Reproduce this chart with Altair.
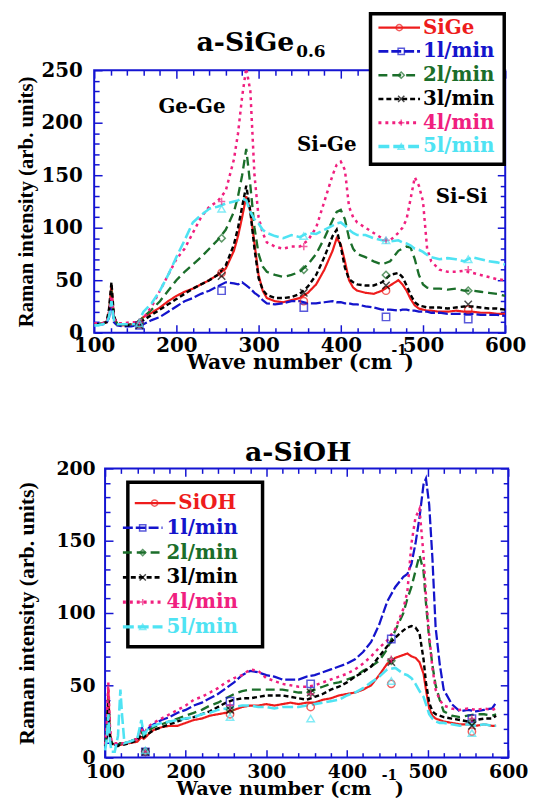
import altair as alt
import pandas as pd

# ---------------- data: top panel (a-SiGe0.6) ----------------
X_TOP = [100, 105, 110, 115, 118, 121, 124, 128,
         135, 145, 150, 155, 160,
         170, 180, 190, 200, 210, 220, 230, 240, 250, 260, 270,
         275, 280, 285, 290, 295, 300, 305, 310,
         320, 330, 340, 350, 360, 370, 380, 390,
         395, 400, 405, 410, 415, 420,
         430, 440, 450, 460, 470,
         475, 480, 485, 490, 495, 500, 505, 510,
         520, 530, 540, 550, 560, 570, 580, 590, 600]
TOP_SIGE = [8, 8, 9, 10, 20, 45, 15, 8,
            7, 8, 9, 11, 15,
            19, 24, 30, 35, 39, 42, 46, 50, 55, 61, 78,
            92, 110, 130, 116, 85, 55, 40, 33,
            30, 29, 31, 33, 38, 46, 60, 78,
            90, 84, 68, 50, 43, 40,
            38, 37, 40, 45, 50,
            46, 40, 32, 26, 23, 22, 21, 21,
            20, 20, 21, 20, 20, 19, 19, 18, 18]
TOP_1 = [8, 8, 8, 9, 14, 28, 10, 7,
         6, 6, 7, 7, 8,
         12, 15, 20, 25, 30, 33, 37, 40, 44, 48, 47,
         46, 48, 45, 42, 38, 35, 31, 28,
         27, 28, 30, 30, 28, 28, 29, 30,
         29, 29, 28, 28, 27, 27,
         25, 24, 22, 22, 21,
         22, 22, 21, 21, 20, 20, 20, 19,
         19, 18, 18, 18, 18, 17, 17, 17, 16]
TOP_2 = [8, 8, 9, 10, 18, 40, 14, 9,
         8, 8, 9, 11, 15,
         22, 30, 40, 50, 58, 65, 72, 80, 88, 98, 115,
         130, 150, 175, 140, 100, 75, 63, 58,
         55, 53, 55, 58, 65, 75, 90, 107,
         115, 117, 108, 90, 80, 75,
         72, 68, 65, 68, 78,
         80, 82, 81, 70, 55, 46, 43, 42,
         42, 41, 42, 40, 40, 39, 38, 37, 35]
TOP_3 = [8, 8, 9, 10, 22, 48, 16, 8,
         7, 7, 8, 10, 12,
         17, 22, 27, 32, 37, 42, 46, 50, 55, 64, 84,
         100, 120, 140, 115, 80, 52, 41, 36,
         33, 33, 34, 37, 44, 55, 72, 92,
         98, 82, 62, 51, 48, 46,
         45, 45, 48, 55, 57,
         53, 45, 36, 29, 26, 25, 24, 24,
         24, 23, 24, 25, 25, 24, 23, 23, 22]
TOP_4 = [9, 9, 9, 10, 18, 35, 14, 9,
         9, 10, 10, 11, 14,
         25, 40, 55, 70, 80, 95, 110, 120, 125, 135, 165,
         190, 225, 252, 230, 150, 110, 95, 86,
         82, 80, 82, 82, 88, 100, 125, 150,
         160, 163, 155, 120, 110, 105,
         100, 95, 90, 88, 95,
         100, 108, 128, 148, 140, 125, 80, 68,
         60, 58, 58, 59, 57, 55, 53, 51, 50]
TOP_5 = [7, 7, 8, 9, 15, 30, 12, 8,
         8, 8, 8, 12, 20,
         28, 40, 55, 72, 88, 105, 112, 118, 120, 123, 125,
         126, 128, 126, 115, 108, 104, 98, 95,
         92, 90, 93, 91, 95, 94, 98, 102,
         104, 105, 102, 98, 95, 93,
         93, 90, 88, 87, 88,
         86, 85, 83, 80, 79, 77, 74, 72,
         70, 71, 70, 68, 72, 70, 68, 67, 65]
TOP_SERIES = [TOP_SIGE, TOP_1, TOP_2, TOP_3, TOP_4, TOP_5]

MARK_X_TOP = [155, 255, 355, 455, 555]
MARK_TOP = [[8, 57, 30, 40, 22],
            [7, 40, 24, 15, 13],
            [9, 90, 60, 55, 40],
            [7, 54, 38, 45, 27],
            [10, 125, 82, 88, 60],
            [9, 118, 92, 88, 70]]

PEAK_NAMES = ["Ge-Ge", "Si-Ge", "Si-Si"]
PEAK_X = [219, 383, 547]
PEAK_Y = [215, 179, 129]

# ---------------- data: bottom panel (a-SiOH) ----------------
X_BOT = [100, 102, 104, 106, 108, 112, 116, 119, 121, 124,
         130, 140, 145, 148, 150, 152, 155, 160, 170, 180,
         190, 200, 210, 220, 230, 240, 250, 260, 270, 280,
         290, 300, 310, 320, 330, 340, 350, 360, 370, 380,
         390, 400, 410, 420, 430, 440, 450, 460, 470, 475,
         480, 485, 490, 495, 498, 502, 506, 510, 515, 520,
         530, 540, 550, 560, 570, 580, 585]
BOT_SIOH = [8, 15, 48, 18, 10, 9, 9, 9, 9, 10,
            10, 11, 14, 13, 14, 15, 17, 19, 21, 22,
            22, 24, 26, 27, 29, 30, 31, 33, 35, 36,
            36, 37, 36, 37, 38, 37, 38, 38, 40, 41,
            43, 44, 45, 47, 50, 57, 65, 69, 71, 72,
            70, 69, 66, 58, 47, 34, 29, 27, 26, 25,
            24, 23, 23, 22, 23, 22, 22]
BOT_1 = [8, 14, 30, 14, 10, 9, 9, 10, 10, 10,
         11, 13, 22, 17, 18, 19, 21, 23, 26, 28,
         31, 33, 36, 38, 41, 44, 48, 52, 57, 60,
         59, 57, 56, 54, 54, 54, 56, 57, 59, 61,
         63, 65, 68, 73, 80, 92, 108, 118, 125, 127,
         134, 148, 166, 189, 193, 175, 138, 90, 65, 47,
         37, 32, 33, 32, 33, 34, 38]
BOT_2 = [8, 16, 40, 16, 10, 9, 9, 10, 10, 10,
         11, 13, 18, 15, 16, 18, 19, 21, 23, 25,
         27, 29, 31, 33, 36, 38, 41, 44, 46, 47,
         47, 47, 47, 47, 46, 45, 45, 47, 49, 51,
         52, 54, 56, 60, 63, 67, 75, 88, 100, 110,
         118, 129, 140, 129, 107, 82, 64, 50, 40, 32,
         29, 28, 29, 30, 30, 29, 30]
BOT_3 = [8, 15, 40, 15, 10, 8, 8, 9, 9, 9,
         10, 12, 16, 14, 15, 16, 17, 19, 21, 23,
         25, 27, 28, 30, 32, 35, 38, 40, 41, 41,
         42, 43, 43, 43, 42, 41, 40, 42, 44, 47,
         49, 52, 56, 59, 63, 70, 77, 83, 88, 90,
         91, 90, 86, 68, 52, 38, 32, 30, 29, 28,
         27, 26, 25, 26, 27, 27, 29]
BOT_4 = [9, 22, 52, 22, 11, 10, 10, 10, 10, 10,
         11, 13, 20, 17, 18, 20, 22, 24, 27, 30,
         33, 36, 40, 42, 45, 48, 52, 55, 57, 61,
         60, 55, 53, 51, 50, 49, 49, 50, 52, 54,
         56, 58, 61, 65, 70, 76, 81, 89, 103, 115,
         148, 166, 172, 140, 112, 85, 62, 47, 40, 36,
         34, 33, 34, 33, 34, 33, 34]
BOT_5 = [5, 12, 30, 12, 4, 4, 15, 47, 30, 10,
         11, 13, 26, 16, 17, 19, 21, 22, 24, 25,
         26, 27, 28, 30, 31, 33, 34, 35, 36, 36,
         35, 35, 34, 35, 35, 35, 36, 37, 38, 39,
         40, 43, 45, 48, 52, 56, 61, 62, 58, 57,
         55, 51, 46, 42, 37, 30, 27, 25, 24, 24,
         23, 22, 23, 22, 23, 22, 22]
BOT_SERIES = [BOT_SIOH, BOT_1, BOT_2, BOT_3, BOT_4, BOT_5]

MARK_X_BOT = [150, 255, 355, 455, 555]
MARK_BOT = [[4, 30, 35, 51, 18],
            [4, 39, 51, 82, 27],
            [4, 33, 45, 67, 25],
            [4, 33, 45, 66, 22],
            [4, 36, 44, 68, 27],
            [5, 28, 27, 53, 17]]

KEYS = ["ref", "1l/min", "2l/min", "3l/min", "4l/min", "5l/min"]
TOP_LABELS = ["SiGe", "1l/min", "2l/min", "3l/min", "4l/min", "5l/min"]
BOT_LABELS = ["SiOH", "1l/min", "2l/min", "3l/min", "4l/min", "5l/min"]

# ---------------- styles ----------------
COLORS = ["#ee1c1c", "#1414cc", "#1b6e2a", "#000000", "#f0207f", "#4fe3f3"]
DASHES = [[1, 0], [10, 3], [9, 5], [5, 3], [3, 4], [11, 4]]
WIDTHS = [2.2, 2.6, 2.6, 2.6, 3.2, 3.4]
X_PATH = "M-1,-1L1,1M-1,1L1,-1"
PLUS_PATH = "M-1,0L1,0M0,-1L0,1"
SHAPES = ["circle", "square", "diamond", X_PATH, PLUS_PATH, "triangle-up"]
AXC = "#1414d2"
FONT = "DejaVu Serif"
TFONT = "Liberation Serif"

color_scale = alt.Scale(domain=KEYS, range=COLORS)
dash_scale = alt.Scale(domain=KEYS, range=DASHES)
width_scale = alt.Scale(domain=KEYS, range=WIDTHS)
shape_scale = alt.Scale(domain=KEYS, range=SHAPES)

ONE = pd.DataFrame({"a": [0]})


def txt(text, x, y, size, color="black", align="center", font=FONT):
    return alt.Chart(ONE).mark_text(
        text=text, font=font, fontSize=size, fontWeight="bold", color=color,
        align=align, baseline="middle").encode(x=alt.value(x), y=alt.value(y))


def panel(xs, series, mx, mvals, labels, P):
    W, H, ymax, sh = P["w"], P["h"], P["ymax"], P["shift"]
    ppu = W / 500.0
    xsc = alt.Scale(domain=[100 - sh / ppu, 600], nice=False, zero=False)
    ysc = alt.Scale(domain=[0, ymax], nice=False, zero=False)
    VW = W + sh

    rows = []
    for k, vals in zip(KEYS, series):
        for x, y in zip(xs, vals):
            rows.append({"key": k, "x": x, "y": y})
    df = pd.DataFrame(rows)

    mrows = []
    for k, vals in zip(KEYS, mvals):
        for x, y in zip(mx, vals):
            mrows.append({"key": k, "x": x, "y": y})
    mdf = pd.DataFrame(mrows)

    xmaj = list(range(100, 601, 100))
    ymaj = list(range(0, ymax + 1, 50))
    xmin = [v for v in range(100, 601, 20) if v % 100]
    ymin = [v for v in range(0, ymax + 1, 10) if v % 50]

    lines = alt.Chart(df).mark_line(clip=True, strokeCap="butt").encode(
        x=alt.X("x:Q", scale=xsc, axis=alt.Axis(
            orient="bottom", values=xmaj, ticks=False, tickSize=0, domain=False,
            grid=False, labelFont=FONT, labelFontSize=P["lab"], labelFontWeight="bold",
            labelColor="black", labelPadding=P["xpad"], labelFlush=False,
            labelOverlap=False, title=None, minExtent=0)),
        y=alt.Y("y:Q", scale=ysc, axis=alt.Axis(
            orient="left", values=ymaj, ticks=False, tickSize=0, domain=False,
            offset=-sh, grid=False, labelFont=FONT, labelFontSize=P["lab"],
            labelFontWeight="bold", labelColor="black", labelPadding=P["ypad"],
            labelOverlap=False, minExtent=0,
            title="Raman intensity (arb. units)", titleFont=TFONT,
            titleFontSize=P["ytsize"], titleFontWeight="bold", titleColor="black",
            titleX=P["ytx"], titleY=H / 2, titleAngle=270, titleAlign="center",
            titleBaseline="middle")),
        color=alt.Color("key:N", scale=color_scale, legend=None),
        strokeDash=alt.StrokeDash("key:N", scale=dash_scale, legend=None),
        strokeWidth=alt.StrokeWidth("key:N", scale=width_scale, legend=None),
    )

    dummy = pd.DataFrame({"x": [100, 600], "y": [0, ymax]})

    def ticks(xo, yo, xv, yv, size):
        yoff = -size - (sh if yo == "left" else 0)
        return alt.Chart(dummy).mark_point(opacity=0).encode(
            x=alt.X("x:Q", scale=xsc, axis=alt.Axis(
                orient=xo, values=xv, tickSize=size, offset=-size, labels=False,
                domain=False, grid=False, title=None, tickColor=AXC, tickWidth=1.5,
                minExtent=0, maxExtent=0)),
            y=alt.Y("y:Q", scale=ysc, axis=alt.Axis(
                orient=yo, values=yv, tickSize=size, offset=yoff, labels=False,
                domain=False, grid=False, title=None, tickColor=AXC, tickWidth=1.5,
                minExtent=0, maxExtent=0)),
        )

    t1 = ticks("bottom", "left", xmaj, ymaj, 8)
    t2 = ticks("bottom", "left", xmin, ymin, 5)
    t3 = ticks("top", "right", xmaj, ymaj, 8)
    t4 = ticks("top", "right", xmin, ymin, 5)

    frame = alt.Chart(ONE).mark_rect(
        filled=False, stroke=AXC, strokeWidth=2).encode(
        x=alt.value(sh), x2=alt.value(VW), y=alt.value(0), y2=alt.value(H))

    marks = alt.Chart(mdf).mark_point(filled=False, size=55, strokeWidth=1.5).encode(
        x=alt.X("x:Q", scale=xsc, axis=None),
        y=alt.Y("y:Q", scale=ysc, axis=None),
        color=alt.Color("key:N", scale=color_scale, legend=None),
        shape=alt.Shape("key:N", scale=shape_scale, legend=None),
    )

    layers = [t1, t2, t3, t4, frame, lines, marks]

    if P.get("peaks"):
        pdf = pd.DataFrame({"x": PEAK_X, "y": PEAK_Y, "t": PEAK_NAMES})
        layers.append(alt.Chart(pdf).mark_text(
            font=FONT, fontSize=20, fontWeight="bold", color="black").encode(
            x=alt.X("x:Q", scale=xsc, axis=None),
            y=alt.Y("y:Q", scale=ysc, axis=None),
            text="t:N"))

    # legend box
    L = P["leg"]
    layers.append(alt.Chart(ONE).mark_rect(
        fill="white", stroke="black", strokeWidth=3.5).encode(
        x=alt.value(L["x0"] + sh), x2=alt.value(L["x1"] + sh),
        y=alt.value(L["y0"]), y2=alt.value(L["y1"])))
    for i, lab in enumerate(labels):
        yy = L["ry0"] + L["dy"] * i
        s0, s1, tx, mxp = L["rows"][i]
        layers.append(alt.Chart(ONE).mark_rule(
            color=COLORS[i], strokeWidth=WIDTHS[i], strokeDash=DASHES[i],
            strokeCap="butt").encode(
            x=alt.value(s0 + sh), x2=alt.value(s1 + sh), y=alt.value(yy)))
        layers.append(alt.Chart(ONE).mark_point(
            shape=SHAPES[i], filled=False, size=40, strokeWidth=1.5,
            color=COLORS[i]).encode(x=alt.value(mxp + sh), y=alt.value(yy)))
        layers.append(txt(lab, tx + sh, yy, 20, COLORS[i], "left"))

    # titles (y given relative to plot top; "b" = relative to plot bottom)
    for text, x, y, size, ref, align in P["texts"]:
        yy = y + (H if ref == "b" else 0)
        layers.append(txt(text, x + sh, yy, size, "black", align))

    return alt.layer(*layers).resolve_axis(
        x="independent", y="independent").properties(width=VW, height=H)


TOP_P = {
    "w": 415, "h": 265, "ymax": 250, "shift": 0, "lab": 20, "xpad": 3, "ypad": 12,
    "ytsize": 21, "ytx": -68, "peaks": True,
    "leg": {"x0": 279, "x1": 414, "y0": -57, "y1": 95, "ry0": -43, "dy": 24.0,
            "rows": [(287, 329, 332, 308)] + [(287, 329, 332, 310)] * 5},
    "texts": [("a-SiGe", 202, -27, 27, "t", "right"),
              ("0.6", 204, -18, 17, "t", "left"),
              ("Wave number (cm", 301, 31, 20.5, "b", "right"),
              ("-1", 308, 19, 14, "b", "center"),
              (")", 318, 31, 20.5, "b", "center")],
}

BOT_P = {
    "w": 407, "h": 292, "ymax": 200, "shift": 11, "lab": 19, "xpad": 5, "ypad": 10,
    "ytsize": 22, "ytx": -79, "peaks": False,
    "leg": {"x0": 23, "x1": 159, "y0": 14, "y1": 180, "ry0": 35, "dy": 25,
            "rows": [(30, 71, 74, 50)] + [(18, 58, 62, 38)] * 5},
    "texts": [("a-SiOH", 195, -15, 27, "t", "center"),
              ("Wave number (cm", 269, 32, 19.5, "b", "right"),
              ("-1", 287, 19, 14, "b", "center"),
              (")", 297, 32, 19.5, "b", "center")],
}

top = panel(X_TOP, TOP_SERIES, MARK_X_TOP, MARK_TOP, TOP_LABELS, TOP_P)
bot = panel(X_BOT, BOT_SERIES, MARK_X_BOT, MARK_BOT, BOT_LABELS, BOT_P)

chart = alt.concat(top, bot, columns=1, spacing=66, align="none").properties(
    padding={"left": 7, "top": 0, "right": 0, "bottom": 0}
).configure_view(stroke=None)

chart.save("out.html", embed_options={"renderer": "svg", "actions": False})
